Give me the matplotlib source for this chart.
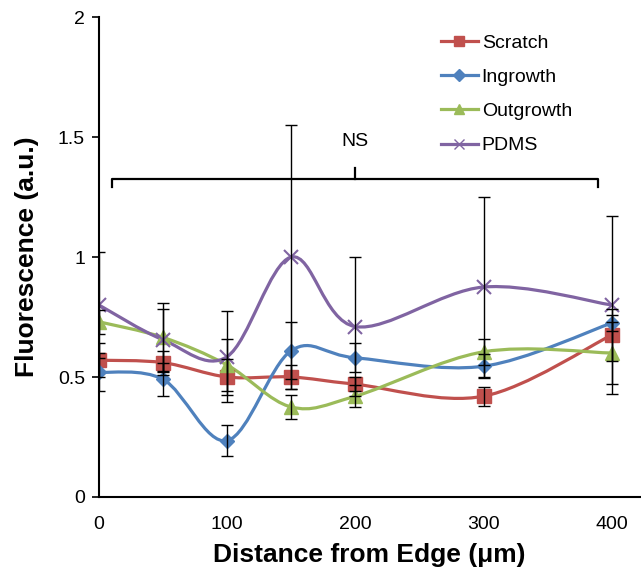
import numpy as np
import matplotlib.pyplot as plt
from matplotlib.path import Path
from matplotlib.patches import PathPatch
from matplotlib.lines import Line2D

plt.rcParams["font.family"] = ["Liberation Sans", "DejaVu Sans"]

x = [0, 50, 100, 150, 200, 300, 400]
names = ["Scratch", "Ingrowth", "Outgrowth", "PDMS"]
scratch = [0.57, 0.56, 0.50, 0.50, 0.47, 0.42, 0.675]
scratch_err = [0.07, 0.05, 0.075, 0.05, 0.03, 0.04, 0.11]
ingrowth = [0.52, 0.49, 0.235, 0.61, 0.58, 0.545, 0.725]
ingrowth_err = [0.08, 0.07, 0.065, 0.12, 0.06, 0.05, 0.035]
outgrowth = [0.73, 0.665, 0.55, 0.375, 0.42, 0.605, 0.60]
outgrowth_err = [0.05, 0.145, 0.11, 0.05, 0.045, 0.055, 0.13]
pdms = [0.80, 0.655, 0.585, 1.0, 0.71, 0.875, 0.80]
pdms_err = [0.22, 0.13, 0.19, 0.55, 0.29, 0.375, 0.37]

series = [scratch, ingrowth, outgrowth, pdms]
errors = [scratch_err, ingrowth_err, outgrowth_err, pdms_err]
colors = ["#C0504D", "#4F81BD", "#9BBB59", "#8064A2"]
markers = ["s", "D", "^", "x"]
msizes = [10, 7.5, 10, 10]


def smooth_path(xs, ys):
    # excel style smoothed line: cubic bezier through every point
    p = np.column_stack([xs, ys]).astype(float)
    pts = np.vstack([p[0], p, p[-1]])
    verts = [p[0]]
    codes = [Path.MOVETO]
    for i in range(1, len(pts) - 2):
        c1 = pts[i] + (pts[i + 1] - pts[i - 1]) / 6
        c2 = pts[i + 1] - (pts[i + 2] - pts[i]) / 6
        verts += [c1, c2, pts[i + 1]]
        codes += [Path.CURVE4] * 3
    return Path(verts, codes)


fig = plt.figure(figsize=(6.41, 5.81), dpi=100)
ax = fig.add_axes([0.1544, 0.1446, 0.844, 0.826])

handles = []
for ys, err, c, m, ms, name in zip(series, errors, colors, markers, msizes, names):
    ax.add_patch(PathPatch(smooth_path(x, ys), fill=False, edgecolor=c, lw=2.3, zorder=2))
    ax.plot(x, ys, linestyle="none", marker=m, color=c, markersize=ms,
            markeredgewidth=1.5 if m == "x" else 1.0, zorder=3)
    ax.errorbar(x, ys, yerr=err, fmt="none", ecolor="black", elinewidth=1.0,
                capsize=4, capthick=1.0, zorder=4)
    handles.append(Line2D([], [], color=c, lw=2.3, marker=m,
                          markersize=ms * 0.75, markeredgewidth=1.0, label=name))

# NS bracket
ax.plot([10, 10, 389, 389], [1.29, 1.325, 1.325, 1.29], color="black", lw=1.6, zorder=5)
ax.plot([200, 200], [1.325, 1.37], color="black", lw=1.6, zorder=5)
ax.text(200, 1.48, "NS", ha="center", va="center", fontsize=14)

ax.set_xlim(0, 422)
ax.set_ylim(0, 2)
ax.set_xticks([0, 100, 200, 300, 400])
ax.set_yticks([0, 0.5, 1, 1.5, 2])
ax.set_yticklabels(["0", "0.5", "1", "1.5", "2"])
ax.tick_params(axis="x", length=0, pad=14, labelsize=14)
ax.tick_params(axis="y", length=5, width=1.2, labelsize=14, pad=5)
for s in ["top", "right"]:
    ax.spines[s].set_visible(False)
for s in ["left", "bottom"]:
    ax.spines[s].set_linewidth(1.5)

ax.set_xlabel("Distance from Edge (\u03bcm)", fontsize=19, fontweight="bold", labelpad=7)
ax.set_ylabel("Fluorescence (a.u.)", fontsize=19, fontweight="bold", labelpad=14)

ax.legend(handles=handles, loc="upper left", bbox_to_anchor=(0.632, 0.964),
          frameon=False, fontsize=14, handlelength=1.9, handletextpad=0.2,
          labelspacing=0.85, borderpad=0, borderaxespad=0)

fig.savefig("out.png", dpi=100)
